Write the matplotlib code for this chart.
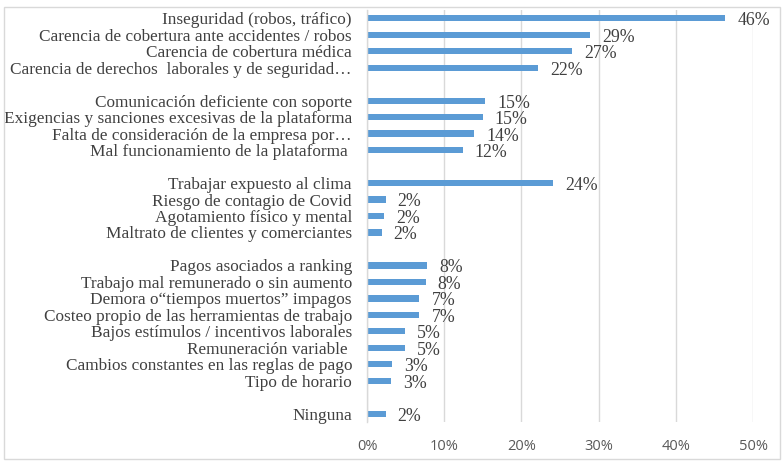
import matplotlib
matplotlib.use("Agg")
import matplotlib.pyplot as plt
from matplotlib.patches import Rectangle

# Data (groups separated by a blank row)
group1_labels = ["Inseguridad (robos, tráfico)",
                 "Carencia de cobertura ante accidentes / robos",
                 "Carencia de cobertura médica",
                 "Carencia de derechos  laborales y de seguridad…"]
group1_values = [46.4, 28.9, 26.6, 22.2]
group1_text = ["46%", "29%", "27%", "22%"]

group2_labels = ["Comunicación deficiente con soporte",
                 "Exigencias y sanciones excesivas de la plataforma",
                 "Falta de consideración de la empresa por…",
                 "Mal funcionamiento de la plataforma "]
group2_values = [15.3, 15.0, 13.9, 12.4]
group2_text = ["15%", "15%", "14%", "12%"]

group3_labels = ["Trabajar expuesto al clima",
                 "Riesgo de contagio de Covid",
                 "Agotamiento físico y mental",
                 "Maltrato de clientes y comerciantes"]
group3_values = [24.1, 2.4, 2.2, 1.9]
group3_text = ["24%", "2%", "2%", "2%"]

group4_labels = ["Pagos asociados a ranking",
                 "Trabajo mal remunerado o sin aumento",
                 "Demora o“tiempos muertos” impagos",
                 "Costeo propio de las herramientas de trabajo",
                 "Bajos estímulos / incentivos laborales",
                 "Remuneración variable ",
                 "Cambios constantes en las reglas de pago",
                 "Tipo de horario"]
group4_values = [7.8, 7.6, 6.8, 6.8, 4.9, 4.9, 3.3, 3.1]
group4_text = ["8%", "8%", "7%", "7%", "5%", "5%", "3%", "3%"]

group5_labels = ["Ninguna"]
group5_values = [2.4]
group5_text = ["2%"]

x_ticks = [0, 10, 20, 30, 40, 50]
x_tick_labels = ["0%", "10%", "20%", "30%", "40%", "50%"]

groups = [(group1_labels, group1_values, group1_text),
          (group2_labels, group2_values, group2_text),
          (group3_labels, group3_values, group3_text),
          (group4_labels, group4_values, group4_text),
          (group5_labels, group5_values, group5_text)]

labels, values, texts, positions = [], [], [], []
pos = 0
for gi, (gl, gv, gt) in enumerate(groups):
    for l, v, t in zip(gl, gv, gt):
        labels.append(l); values.append(v); texts.append(t); positions.append(pos)
        pos += 1
    if gi < len(groups) - 1:
        pos += 1
nslots = pos

W, H = 784, 470
fig = plt.figure(figsize=(W / 100, H / 100), dpi=100)
fig.patch.set_facecolor("white")
# outer border
fig.add_artist(Rectangle((4 / W, 1 - 459 / H), (780 - 4) / W, (459 - 7) / H,
                         transform=fig.transFigure, fill=False,
                         edgecolor="#d9d9d9", linewidth=1))

left, right, top, bottom = 367, 753, 10, 422
ax = fig.add_axes([left / W, 1 - bottom / H, (right - left) / W, (bottom - top) / H])

bar_color = "#5B9BD5"
ax.barh(positions, values, height=0.38, color=bar_color, zorder=3)

ax.set_xlim(0, 50)
ax.set_ylim(nslots - 0.5, -0.5)

for p, v, t in zip(positions, values, texts):
    ax.text(v + 1.55, p + 0.15, t, ha="left", va="center", fontsize=12.8,
            family="Liberation Serif", color="#404040", clip_on=False)

ax.set_yticks(positions)
ax.set_yticklabels(labels, fontsize=12.4, family="Liberation Serif", color="#404040")
ax.tick_params(axis="y", length=0, pad=10.8)

ax.set_xticks(x_ticks)
ax.set_xticklabels(x_tick_labels, fontsize=10.5, family="Open Sans", color="#595959")
ax.tick_params(axis="x", length=0, pad=12)

ax.grid(axis="x", color="#d9d9d9", linewidth=1, zorder=0)
for s in ["top", "right", "bottom"]:
    ax.spines[s].set_visible(False)
ax.spines["left"].set_color("#d9d9d9")
ax.spines["left"].set_linewidth(1)
ax.spines["left"].set_zorder(4)

fig.savefig("out.png", dpi=100)
